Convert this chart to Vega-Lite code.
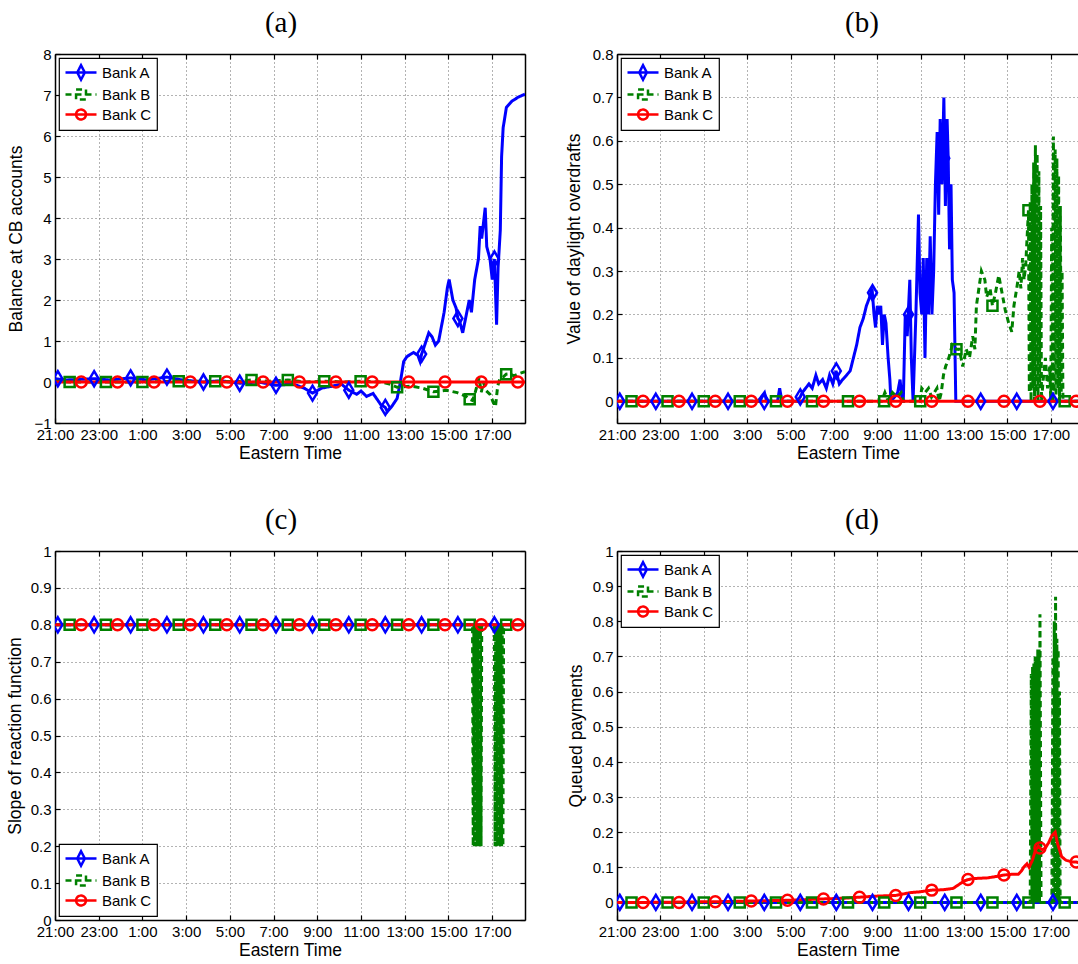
{
"$schema": "https://vega.github.io/schema/vega-lite/v6.json",
"background": "white",
"padding": {"left": 6, "top": 9, "right": 0, "bottom": 0},
"bounds": "flush",
"columns": 2,
"spacing": {"row": 128, "column": 92},
"config": {
  "font": "Liberation Sans",
  "view": {"stroke": null},
  "axis": {"labelFontSize": 15, "titleFontSize": 17.5, "titleFontWeight": "normal", "labelColor": "#000", "titleColor": "#000", "tickColor": "#000", "domainColor": "#000", "domainWidth": 1.5, "tickWidth": 1.2, "tickSize": -5, "gridColor": "#666", "gridDash": [1, 3], "gridWidth": 1, "gridOpacity": 1, "labelPadding": 9, "labelFlush": false, "labelOverlap": false},
  "legend": {"offset": 4, "padding": 5, "rowPadding": -5, "labelOffset": 19, "labelFontSize": 15, "labelColor": "#000", "symbolSize": 256, "strokeColor": "#000", "fillColor": "#fff"},
  "title": {"font": "Liberation Serif", "fontSize": 29, "fontWeight": "normal", "color": "#000", "baseline": "alphabetic", "offset": 9, "anchor": "middle", "frame": "group"}
},
"resolve": {"scale": {"color": "independent", "strokeDash": "independent"}},
"datasets": {
"a_line": [
{"t":0,"v":0.08,"bank":"Bank A"},{"t":0.5,"v":0.05,"bank":"Bank A"},{"t":1,"v":0.06,"bank":"Bank A"},{"t":1.79,"v":0.08,"bank":"Bank A"},{"t":2.5,"v":0.05,"bank":"Bank A"},{"t":3.46,"v":0.1,"bank":"Bank A"},{"t":4.2,"v":0.05,"bank":"Bank A"},{"t":5.12,"v":0.12,"bank":"Bank A"},{"t":5.8,"v":0.05,"bank":"Bank A"},{"t":6.79,"v":0,"bank":"Bank A"},{"t":7.6,"v":0.03,"bank":"Bank A"},{"t":8.45,"v":-0.03,"bank":"Bank A"},{"t":9.3,"v":0,"bank":"Bank A"},{"t":10.11,"v":-0.08,"bank":"Bank A"},{"t":10.9,"v":-0.05,"bank":"Bank A"},{"t":11.4,"v":-0.15,"bank":"Bank A"},{"t":11.78,"v":-0.27,"bank":"Bank A"},{"t":12.2,"v":-0.15,"bank":"Bank A"},{"t":12.7,"v":-0.1,"bank":"Bank A"},{"t":13.1,"v":-0.05,"bank":"Bank A"},{"t":13.44,"v":-0.2,"bank":"Bank A"},{"t":13.8,"v":-0.3,"bank":"Bank A"},{"t":14,"v":-0.22,"bank":"Bank A"},{"t":14.25,"v":-0.35,"bank":"Bank A"},{"t":14.55,"v":-0.28,"bank":"Bank A"},{"t":14.9,"v":-0.55,"bank":"Bank A"},{"t":15.11,"v":-0.62,"bank":"Bank A"},{"t":15.2,"v":-0.72,"bank":"Bank A"},{"t":15.4,"v":-0.6,"bank":"Bank A"},{"t":15.65,"v":-0.4,"bank":"Bank A"},{"t":15.8,"v":0,"bank":"Bank A"},{"t":15.95,"v":0.5,"bank":"Bank A"},{"t":16.1,"v":0.62,"bank":"Bank A"},{"t":16.4,"v":0.72,"bank":"Bank A"},{"t":16.6,"v":0.65,"bank":"Bank A"},{"t":16.7,"v":0.5,"bank":"Bank A"},{"t":16.77,"v":0.68,"bank":"Bank A"},{"t":16.85,"v":0.8,"bank":"Bank A"},{"t":17.1,"v":1.2,"bank":"Bank A"},{"t":17.25,"v":1.1,"bank":"Bank A"},{"t":17.4,"v":0.9,"bank":"Bank A"},{"t":17.55,"v":1,"bank":"Bank A"},{"t":17.8,"v":1.7,"bank":"Bank A"},{"t":17.95,"v":2.3,"bank":"Bank A"},{"t":18.03,"v":2.5,"bank":"Bank A"},{"t":18.2,"v":2,"bank":"Bank A"},{"t":18.35,"v":1.8,"bank":"Bank A"},{"t":18.43,"v":1.55,"bank":"Bank A"},{"t":18.5,"v":1.5,"bank":"Bank A"},{"t":18.65,"v":1.2,"bank":"Bank A"},{"t":18.8,"v":1.6,"bank":"Bank A"},{"t":18.95,"v":2,"bank":"Bank A"},{"t":19.05,"v":1.7,"bank":"Bank A"},{"t":19.2,"v":2.5,"bank":"Bank A"},{"t":19.37,"v":3,"bank":"Bank A"},{"t":19.45,"v":3.8,"bank":"Bank A"},{"t":19.52,"v":3.5,"bank":"Bank A"},{"t":19.68,"v":4.25,"bank":"Bank A"},{"t":19.75,"v":3.3,"bank":"Bank A"},{"t":19.9,"v":3,"bank":"Bank A"},{"t":20,"v":2.5,"bank":"Bank A"},{"t":20.1,"v":3,"bank":"Bank A"},{"t":20.2,"v":1.4,"bank":"Bank A"},{"t":20.27,"v":2.8,"bank":"Bank A"},{"t":20.37,"v":3.7,"bank":"Bank A"},{"t":20.43,"v":5.5,"bank":"Bank A"},{"t":20.5,"v":6.2,"bank":"Bank A"},{"t":20.65,"v":6.7,"bank":"Bank A"},{"t":20.9,"v":6.85,"bank":"Bank A"},{"t":21.2,"v":6.95,"bank":"Bank A"},{"t":21.5,"v":7.02,"bank":"Bank A"},
{"t":0,"v":0.02,"bank":"Bank B"},{"t":0.67,"v":0,"bank":"Bank B"},{"t":2.33,"v":0,"bank":"Bank B"},{"t":4,"v":0,"bank":"Bank B"},{"t":5.66,"v":0.02,"bank":"Bank B"},{"t":7.33,"v":0.02,"bank":"Bank B"},{"t":8.2,"v":0,"bank":"Bank B"},{"t":8.99,"v":0.05,"bank":"Bank B"},{"t":9.8,"v":0.02,"bank":"Bank B"},{"t":10.65,"v":0.05,"bank":"Bank B"},{"t":11.5,"v":0,"bank":"Bank B"},{"t":12.32,"v":0.02,"bank":"Bank B"},{"t":13.2,"v":0,"bank":"Bank B"},{"t":13.98,"v":0.02,"bank":"Bank B"},{"t":14.9,"v":0,"bank":"Bank B"},{"t":15.3,"v":-0.05,"bank":"Bank B"},{"t":15.65,"v":-0.13,"bank":"Bank B"},{"t":16.3,"v":-0.1,"bank":"Bank B"},{"t":16.8,"v":-0.15,"bank":"Bank B"},{"t":17.31,"v":-0.24,"bank":"Bank B"},{"t":17.9,"v":-0.2,"bank":"Bank B"},{"t":18.4,"v":-0.26,"bank":"Bank B"},{"t":18.8,"v":-0.35,"bank":"Bank B"},{"t":18.97,"v":-0.42,"bank":"Bank B"},{"t":19.1,"v":-0.45,"bank":"Bank B"},{"t":19.2,"v":-0.3,"bank":"Bank B"},{"t":19.3,"v":-0.1,"bank":"Bank B"},{"t":19.4,"v":0.1,"bank":"Bank B"},{"t":19.5,"v":-0.25,"bank":"Bank B"},{"t":19.6,"v":0,"bank":"Bank B"},{"t":19.7,"v":-0.2,"bank":"Bank B"},{"t":19.9,"v":-0.3,"bank":"Bank B"},{"t":20.05,"v":-0.5,"bank":"Bank B"},{"t":20.15,"v":-0.6,"bank":"Bank B"},{"t":20.25,"v":-0.1,"bank":"Bank B"},{"t":20.35,"v":0.08,"bank":"Bank B"},{"t":20.5,"v":0.12,"bank":"Bank B"},{"t":20.64,"v":0.19,"bank":"Bank B"},{"t":20.8,"v":0.2,"bank":"Bank B"},{"t":21,"v":0.15,"bank":"Bank B"},{"t":21.2,"v":0.2,"bank":"Bank B"},{"t":21.5,"v":0.25,"bank":"Bank B"},
{"t":0,"v":0,"bank":"Bank C"},{"t":21.5,"v":0,"bank":"Bank C"}
],
"a_mark": [
{"t":0.13,"v":0.08,"bank":"Bank A"},{"t":1.79,"v":0.08,"bank":"Bank A"},{"t":3.46,"v":0.1,"bank":"Bank A"},{"t":5.12,"v":0.12,"bank":"Bank A"},{"t":6.79,"v":0,"bank":"Bank A"},{"t":8.45,"v":-0.03,"bank":"Bank A"},{"t":10.11,"v":-0.08,"bank":"Bank A"},{"t":11.78,"v":-0.27,"bank":"Bank A"},{"t":13.44,"v":-0.2,"bank":"Bank A"},{"t":15.11,"v":-0.62,"bank":"Bank A"},{"t":16.77,"v":0.68,"bank":"Bank A"},{"t":18.43,"v":1.55,"bank":"Bank A"},{"t":20.1,"v":3,"bank":"Bank A"},
{"t":0.67,"v":0,"bank":"Bank B"},{"t":2.33,"v":0,"bank":"Bank B"},{"t":4,"v":0,"bank":"Bank B"},{"t":5.66,"v":0.02,"bank":"Bank B"},{"t":7.33,"v":0.02,"bank":"Bank B"},{"t":8.99,"v":0.05,"bank":"Bank B"},{"t":10.65,"v":0.05,"bank":"Bank B"},{"t":12.32,"v":0.02,"bank":"Bank B"},{"t":13.98,"v":0.02,"bank":"Bank B"},{"t":15.65,"v":-0.13,"bank":"Bank B"},{"t":17.31,"v":-0.24,"bank":"Bank B"},{"t":18.97,"v":-0.42,"bank":"Bank B"},{"t":20.64,"v":0.19,"bank":"Bank B"},
{"t":1.2,"v":0,"bank":"Bank C"},{"t":2.86,"v":0,"bank":"Bank C"},{"t":4.53,"v":0,"bank":"Bank C"},{"t":6.19,"v":0,"bank":"Bank C"},{"t":7.86,"v":0,"bank":"Bank C"},{"t":9.52,"v":0,"bank":"Bank C"},{"t":11.18,"v":0,"bank":"Bank C"},{"t":12.85,"v":0,"bank":"Bank C"},{"t":14.51,"v":0,"bank":"Bank C"},{"t":16.18,"v":0,"bank":"Bank C"},{"t":17.84,"v":0,"bank":"Bank C"},{"t":19.5,"v":0,"bank":"Bank C"},{"t":21.17,"v":0,"bank":"Bank C"}
],
"b_line": [
{"t":0,"v":0,"bank":"Bank A"},{"t":6.5,"v":0,"bank":"Bank A"},{"t":6.8,"v":0.02,"bank":"Bank A"},{"t":6.9,"v":0,"bank":"Bank A"},{"t":7.4,"v":0,"bank":"Bank A"},{"t":7.5,"v":0.03,"bank":"Bank A"},{"t":7.6,"v":0,"bank":"Bank A"},{"t":8.3,"v":0,"bank":"Bank A"},{"t":8.45,"v":0.01,"bank":"Bank A"},{"t":8.54,"v":0.02,"bank":"Bank A"},{"t":8.85,"v":0.04,"bank":"Bank A"},{"t":9,"v":0.03,"bank":"Bank A"},{"t":9.17,"v":0.06,"bank":"Bank A"},{"t":9.3,"v":0.04,"bank":"Bank A"},{"t":9.48,"v":0.05,"bank":"Bank A"},{"t":9.65,"v":0.03,"bank":"Bank A"},{"t":9.8,"v":0.06,"bank":"Bank A"},{"t":9.95,"v":0.04,"bank":"Bank A"},{"t":10.1,"v":0.07,"bank":"Bank A"},{"t":10.25,"v":0.04,"bank":"Bank A"},{"t":10.4,"v":0.05,"bank":"Bank A"},{"t":10.58,"v":0.06,"bank":"Bank A"},{"t":10.75,"v":0.07,"bank":"Bank A"},{"t":10.9,"v":0.1,"bank":"Bank A"},{"t":11.05,"v":0.13,"bank":"Bank A"},{"t":11.2,"v":0.17,"bank":"Bank A"},{"t":11.35,"v":0.19,"bank":"Bank A"},{"t":11.5,"v":0.22,"bank":"Bank A"},{"t":11.65,"v":0.24,"bank":"Bank A"},{"t":11.76,"v":0.26,"bank":"Bank A"},{"t":11.85,"v":0.2,"bank":"Bank A"},{"t":11.92,"v":0.17,"bank":"Bank A"},{"t":12,"v":0.22,"bank":"Bank A"},{"t":12.08,"v":0.2,"bank":"Bank A"},{"t":12.16,"v":0.22,"bank":"Bank A"},{"t":12.24,"v":0.13,"bank":"Bank A"},{"t":12.32,"v":0.2,"bank":"Bank A"},{"t":12.4,"v":0.18,"bank":"Bank A"},{"t":12.5,"v":0.1,"bank":"Bank A"},{"t":12.58,"v":0.05,"bank":"Bank A"},{"t":12.63,"v":0,"bank":"Bank A"},{"t":12.8,"v":0.01,"bank":"Bank A"},{"t":12.94,"v":0.02,"bank":"Bank A"},{"t":13.05,"v":0.05,"bank":"Bank A"},{"t":13.15,"v":0,"bank":"Bank A"},{"t":13.2,"v":0,"bank":"Bank A"},{"t":13.29,"v":0.2,"bank":"Bank A"},{"t":13.38,"v":0.15,"bank":"Bank A"},{"t":13.5,"v":0.28,"bank":"Bank A"},{"t":13.57,"v":0.1,"bank":"Bank A"},{"t":13.65,"v":0,"bank":"Bank A"},{"t":13.78,"v":0.2,"bank":"Bank A"},{"t":13.9,"v":0.43,"bank":"Bank A"},{"t":13.97,"v":0.25,"bank":"Bank A"},{"t":14.05,"v":0.2,"bank":"Bank A"},{"t":14.12,"v":0.33,"bank":"Bank A"},{"t":14.2,"v":0.1,"bank":"Bank A"},{"t":14.28,"v":0.33,"bank":"Bank A"},{"t":14.36,"v":0.2,"bank":"Bank A"},{"t":14.44,"v":0.38,"bank":"Bank A"},{"t":14.52,"v":0.2,"bank":"Bank A"},{"t":14.6,"v":0.3,"bank":"Bank A"},{"t":14.68,"v":0.5,"bank":"Bank A"},{"t":14.76,"v":0.62,"bank":"Bank A"},{"t":14.83,"v":0.43,"bank":"Bank A"},{"t":14.9,"v":0.65,"bank":"Bank A"},{"t":14.98,"v":0.5,"bank":"Bank A"},{"t":15.07,"v":0.7,"bank":"Bank A"},{"t":15.14,"v":0.45,"bank":"Bank A"},{"t":15.22,"v":0.65,"bank":"Bank A"},{"t":15.27,"v":0.56,"bank":"Bank A"},{"t":15.33,"v":0.35,"bank":"Bank A"},{"t":15.4,"v":0.5,"bank":"Bank A"},{"t":15.46,"v":0.28,"bank":"Bank A"},{"t":15.54,"v":0.25,"bank":"Bank A"},{"t":15.62,"v":0,"bank":"Bank A"},{"t":21.5,"v":0,"bank":"Bank A"},
{"t":0,"v":0,"bank":"Bank B"},{"t":12.2,"v":0,"bank":"Bank B"},{"t":12.35,"v":0.02,"bank":"Bank B"},{"t":12.5,"v":0,"bank":"Bank B"},{"t":12.7,"v":0.02,"bank":"Bank B"},{"t":12.9,"v":0.01,"bank":"Bank B"},{"t":13.1,"v":0.02,"bank":"Bank B"},{"t":13.2,"v":0,"bank":"Bank B"},{"t":13.97,"v":0,"bank":"Bank B"},{"t":14.05,"v":0.03,"bank":"Bank B"},{"t":14.2,"v":0.02,"bank":"Bank B"},{"t":14.36,"v":0.03,"bank":"Bank B"},{"t":14.5,"v":0.01,"bank":"Bank B"},{"t":14.75,"v":0.03,"bank":"Bank B"},{"t":14.85,"v":0,"bank":"Bank B"},{"t":14.95,"v":0.02,"bank":"Bank B"},{"t":15.05,"v":0.06,"bank":"Bank B"},{"t":15.15,"v":0.08,"bank":"Bank B"},{"t":15.3,"v":0.1,"bank":"Bank B"},{"t":15.46,"v":0.13,"bank":"Bank B"},{"t":15.65,"v":0.12,"bank":"Bank B"},{"t":15.78,"v":0.12,"bank":"Bank B"},{"t":15.94,"v":0.08,"bank":"Bank B"},{"t":16.1,"v":0.12,"bank":"Bank B"},{"t":16.25,"v":0.1,"bank":"Bank B"},{"t":16.4,"v":0.15,"bank":"Bank B"},{"t":16.5,"v":0.12,"bank":"Bank B"},{"t":16.57,"v":0.22,"bank":"Bank B"},{"t":16.8,"v":0.3,"bank":"Bank B"},{"t":16.96,"v":0.28,"bank":"Bank B"},{"t":17.04,"v":0.24,"bank":"Bank B"},{"t":17.2,"v":0.26,"bank":"Bank B"},{"t":17.31,"v":0.22,"bank":"Bank B"},{"t":17.45,"v":0.25,"bank":"Bank B"},{"t":17.6,"v":0.29,"bank":"Bank B"},{"t":17.75,"v":0.25,"bank":"Bank B"},{"t":17.9,"v":0.21,"bank":"Bank B"},{"t":18.06,"v":0.18,"bank":"Bank B"},{"t":18.2,"v":0.16,"bank":"Bank B"},{"t":18.3,"v":0.22,"bank":"Bank B"},{"t":18.46,"v":0.27,"bank":"Bank B"},{"t":18.54,"v":0.3,"bank":"Bank B"},{"t":18.62,"v":0.26,"bank":"Bank B"},{"t":18.7,"v":0.33,"bank":"Bank B"},{"t":18.77,"v":0.28,"bank":"Bank B"},{"t":18.85,"v":0.32,"bank":"Bank B"},{"t":18.97,"v":0.44,"bank":"Bank B"},{"t":19.01,"v":0.02,"bank":"Bank B"},{"t":19.05,"v":0.46,"bank":"Bank B"},{"t":19.09,"v":0,"bank":"Bank B"},{"t":19.13,"v":0.5,"bank":"Bank B"},{"t":19.17,"v":0.03,"bank":"Bank B"},{"t":19.21,"v":0.55,"bank":"Bank B"},{"t":19.25,"v":0,"bank":"Bank B"},{"t":19.29,"v":0.59,"bank":"Bank B"},{"t":19.33,"v":0.02,"bank":"Bank B"},{"t":19.37,"v":0.57,"bank":"Bank B"},{"t":19.41,"v":0,"bank":"Bank B"},{"t":19.45,"v":0.53,"bank":"Bank B"},{"t":19.49,"v":0.03,"bank":"Bank B"},{"t":19.53,"v":0.45,"bank":"Bank B"},{"t":19.57,"v":0,"bank":"Bank B"},{"t":19.65,"v":0.05,"bank":"Bank B"},{"t":19.75,"v":0.1,"bank":"Bank B"},{"t":19.85,"v":0.03,"bank":"Bank B"},{"t":19.95,"v":0.08,"bank":"Bank B"},{"t":20,"v":0,"bank":"Bank B"},{"t":20.04,"v":0.4,"bank":"Bank B"},{"t":20.08,"v":0,"bank":"Bank B"},{"t":20.12,"v":0.61,"bank":"Bank B"},{"t":20.16,"v":0.02,"bank":"Bank B"},{"t":20.2,"v":0.58,"bank":"Bank B"},{"t":20.24,"v":0,"bank":"Bank B"},{"t":20.28,"v":0.56,"bank":"Bank B"},{"t":20.32,"v":0.03,"bank":"Bank B"},{"t":20.36,"v":0.52,"bank":"Bank B"},{"t":20.4,"v":0,"bank":"Bank B"},{"t":20.44,"v":0.45,"bank":"Bank B"},{"t":20.48,"v":0.02,"bank":"Bank B"},{"t":20.52,"v":0.3,"bank":"Bank B"},{"t":20.56,"v":0,"bank":"Bank B"},{"t":21.5,"v":0,"bank":"Bank B"},
{"t":0,"v":0,"bank":"Bank C"},{"t":21.5,"v":0,"bank":"Bank C"}
],
"b_mark": [
{"t":0.13,"v":0,"bank":"Bank A"},{"t":1.79,"v":0,"bank":"Bank A"},{"t":3.46,"v":0,"bank":"Bank A"},{"t":5.12,"v":0,"bank":"Bank A"},{"t":6.79,"v":0,"bank":"Bank A"},{"t":8.45,"v":0.01,"bank":"Bank A"},{"t":10.11,"v":0.07,"bank":"Bank A"},{"t":11.78,"v":0.25,"bank":"Bank A"},{"t":13.44,"v":0.2,"bank":"Bank A"},{"t":15.11,"v":0.56,"bank":"Bank A"},{"t":16.77,"v":0,"bank":"Bank A"},{"t":18.43,"v":0,"bank":"Bank A"},{"t":20.1,"v":0,"bank":"Bank A"},
{"t":0.67,"v":0,"bank":"Bank B"},{"t":2.33,"v":0,"bank":"Bank B"},{"t":4,"v":0,"bank":"Bank B"},{"t":5.66,"v":0,"bank":"Bank B"},{"t":7.33,"v":0,"bank":"Bank B"},{"t":8.99,"v":0,"bank":"Bank B"},{"t":10.65,"v":0,"bank":"Bank B"},{"t":12.32,"v":0,"bank":"Bank B"},{"t":13.98,"v":0,"bank":"Bank B"},{"t":15.65,"v":0.12,"bank":"Bank B"},{"t":17.31,"v":0.22,"bank":"Bank B"},{"t":18.97,"v":0.44,"bank":"Bank B"},{"t":20.64,"v":0,"bank":"Bank B"},
{"t":1.2,"v":0,"bank":"Bank C"},{"t":2.86,"v":0,"bank":"Bank C"},{"t":4.53,"v":0,"bank":"Bank C"},{"t":6.19,"v":0,"bank":"Bank C"},{"t":7.86,"v":0,"bank":"Bank C"},{"t":9.52,"v":0,"bank":"Bank C"},{"t":11.18,"v":0,"bank":"Bank C"},{"t":12.85,"v":0,"bank":"Bank C"},{"t":14.51,"v":0,"bank":"Bank C"},{"t":16.18,"v":0,"bank":"Bank C"},{"t":17.84,"v":0,"bank":"Bank C"},{"t":19.5,"v":0,"bank":"Bank C"},{"t":21.17,"v":0,"bank":"Bank C"}
],
"c_line": [
{"t":0,"v":0.8,"bank":"Bank A"},{"t":21.5,"v":0.8,"bank":"Bank A"},
{"t":0,"v":0.8,"bank":"Bank B"},{"t":19.1,"v":0.8,"bank":"Bank B"},{"t":19.13,"v":0.2,"bank":"Bank B"},{"t":19.16,"v":0.8,"bank":"Bank B"},{"t":19.19,"v":0.2,"bank":"Bank B"},{"t":19.22,"v":0.8,"bank":"Bank B"},{"t":19.25,"v":0.2,"bank":"Bank B"},{"t":19.28,"v":0.8,"bank":"Bank B"},{"t":19.31,"v":0.2,"bank":"Bank B"},{"t":19.34,"v":0.8,"bank":"Bank B"},{"t":19.37,"v":0.2,"bank":"Bank B"},{"t":19.4,"v":0.8,"bank":"Bank B"},{"t":19.43,"v":0.2,"bank":"Bank B"},{"t":19.46,"v":0.8,"bank":"Bank B"},{"t":19.49,"v":0.2,"bank":"Bank B"},{"t":19.52,"v":0.8,"bank":"Bank B"},{"t":20.1,"v":0.8,"bank":"Bank B"},{"t":20.13,"v":0.2,"bank":"Bank B"},{"t":20.16,"v":0.8,"bank":"Bank B"},{"t":20.19,"v":0.2,"bank":"Bank B"},{"t":20.22,"v":0.8,"bank":"Bank B"},{"t":20.25,"v":0.2,"bank":"Bank B"},{"t":20.28,"v":0.8,"bank":"Bank B"},{"t":20.31,"v":0.2,"bank":"Bank B"},{"t":20.34,"v":0.8,"bank":"Bank B"},{"t":20.37,"v":0.2,"bank":"Bank B"},{"t":20.4,"v":0.8,"bank":"Bank B"},{"t":20.43,"v":0.2,"bank":"Bank B"},{"t":20.46,"v":0.8,"bank":"Bank B"},{"t":20.49,"v":0.2,"bank":"Bank B"},{"t":20.52,"v":0.8,"bank":"Bank B"},{"t":21.5,"v":0.8,"bank":"Bank B"},
{"t":0,"v":0.8,"bank":"Bank C"},{"t":21.5,"v":0.8,"bank":"Bank C"}
],
"c_mark": [
{"t":0.13,"v":0.8,"bank":"Bank A"},{"t":1.79,"v":0.8,"bank":"Bank A"},{"t":3.46,"v":0.8,"bank":"Bank A"},{"t":5.12,"v":0.8,"bank":"Bank A"},{"t":6.79,"v":0.8,"bank":"Bank A"},{"t":8.45,"v":0.8,"bank":"Bank A"},{"t":10.11,"v":0.8,"bank":"Bank A"},{"t":11.78,"v":0.8,"bank":"Bank A"},{"t":13.44,"v":0.8,"bank":"Bank A"},{"t":15.11,"v":0.8,"bank":"Bank A"},{"t":16.77,"v":0.8,"bank":"Bank A"},{"t":18.43,"v":0.8,"bank":"Bank A"},{"t":20.1,"v":0.8,"bank":"Bank A"},
{"t":0.67,"v":0.8,"bank":"Bank B"},{"t":2.33,"v":0.8,"bank":"Bank B"},{"t":4,"v":0.8,"bank":"Bank B"},{"t":5.66,"v":0.8,"bank":"Bank B"},{"t":7.33,"v":0.8,"bank":"Bank B"},{"t":8.99,"v":0.8,"bank":"Bank B"},{"t":10.65,"v":0.8,"bank":"Bank B"},{"t":12.32,"v":0.8,"bank":"Bank B"},{"t":13.98,"v":0.8,"bank":"Bank B"},{"t":15.65,"v":0.8,"bank":"Bank B"},{"t":17.31,"v":0.8,"bank":"Bank B"},{"t":18.97,"v":0.8,"bank":"Bank B"},{"t":20.64,"v":0.8,"bank":"Bank B"},
{"t":1.2,"v":0.8,"bank":"Bank C"},{"t":2.86,"v":0.8,"bank":"Bank C"},{"t":4.53,"v":0.8,"bank":"Bank C"},{"t":6.19,"v":0.8,"bank":"Bank C"},{"t":7.86,"v":0.8,"bank":"Bank C"},{"t":9.52,"v":0.8,"bank":"Bank C"},{"t":11.18,"v":0.8,"bank":"Bank C"},{"t":12.85,"v":0.8,"bank":"Bank C"},{"t":14.51,"v":0.8,"bank":"Bank C"},{"t":16.18,"v":0.8,"bank":"Bank C"},{"t":17.84,"v":0.8,"bank":"Bank C"},{"t":19.5,"v":0.8,"bank":"Bank C"},{"t":21.17,"v":0.8,"bank":"Bank C"}
],
"d_line": [
{"t":0,"v":0,"bank":"Bank A"},{"t":21.5,"v":0,"bank":"Bank A"},
{"t":0,"v":0,"bank":"Bank B"},{"t":19.05,"v":0,"bank":"Bank B"},{"t":19.1,"v":0.65,"bank":"Bank B"},{"t":19.13,"v":0,"bank":"Bank B"},{"t":19.16,"v":0.67,"bank":"Bank B"},{"t":19.19,"v":0,"bank":"Bank B"},{"t":19.22,"v":0.68,"bank":"Bank B"},{"t":19.25,"v":0,"bank":"Bank B"},{"t":19.28,"v":0.7,"bank":"Bank B"},{"t":19.31,"v":0,"bank":"Bank B"},{"t":19.34,"v":0.7,"bank":"Bank B"},{"t":19.37,"v":0,"bank":"Bank B"},{"t":19.4,"v":0.72,"bank":"Bank B"},{"t":19.43,"v":0,"bank":"Bank B"},{"t":19.46,"v":0.72,"bank":"Bank B"},{"t":19.48,"v":0,"bank":"Bank B"},{"t":19.5,"v":0.82,"bank":"Bank B"},{"t":19.55,"v":0,"bank":"Bank B"},{"t":20.05,"v":0,"bank":"Bank B"},{"t":20.1,"v":0.7,"bank":"Bank B"},{"t":20.13,"v":0,"bank":"Bank B"},{"t":20.16,"v":0.8,"bank":"Bank B"},{"t":20.19,"v":0,"bank":"Bank B"},{"t":20.22,"v":0.87,"bank":"Bank B"},{"t":20.25,"v":0,"bank":"Bank B"},{"t":20.28,"v":0.75,"bank":"Bank B"},{"t":20.31,"v":0,"bank":"Bank B"},{"t":20.34,"v":0.72,"bank":"Bank B"},{"t":20.37,"v":0,"bank":"Bank B"},{"t":20.4,"v":0.6,"bank":"Bank B"},{"t":20.43,"v":0,"bank":"Bank B"},{"t":21.5,"v":0,"bank":"Bank B"},
{"t":0,"v":0,"bank":"Bank C"},{"t":1.2,"v":0,"bank":"Bank C"},{"t":4.53,"v":0.002,"bank":"Bank C"},{"t":6.19,"v":0.004,"bank":"Bank C"},{"t":7.86,"v":0.006,"bank":"Bank C"},{"t":9.52,"v":0.01,"bank":"Bank C"},{"t":10.5,"v":0.012,"bank":"Bank C"},{"t":11.18,"v":0.015,"bank":"Bank C"},{"t":12,"v":0.018,"bank":"Bank C"},{"t":12.85,"v":0.02,"bank":"Bank C"},{"t":13.54,"v":0.028,"bank":"Bank C"},{"t":13.93,"v":0.03,"bank":"Bank C"},{"t":14.51,"v":0.035,"bank":"Bank C"},{"t":15.04,"v":0.036,"bank":"Bank C"},{"t":15.5,"v":0.04,"bank":"Bank C"},{"t":15.98,"v":0.06,"bank":"Bank C"},{"t":16.18,"v":0.065,"bank":"Bank C"},{"t":16.45,"v":0.068,"bank":"Bank C"},{"t":17.1,"v":0.07,"bank":"Bank C"},{"t":17.5,"v":0.074,"bank":"Bank C"},{"t":17.84,"v":0.078,"bank":"Bank C"},{"t":18.2,"v":0.08,"bank":"Bank C"},{"t":18.5,"v":0.08,"bank":"Bank C"},{"t":18.65,"v":0.09,"bank":"Bank C"},{"t":18.75,"v":0.1,"bank":"Bank C"},{"t":18.9,"v":0.11,"bank":"Bank C"},{"t":19,"v":0.1,"bank":"Bank C"},{"t":19.15,"v":0.12,"bank":"Bank C"},{"t":19.3,"v":0.15,"bank":"Bank C"},{"t":19.43,"v":0.16,"bank":"Bank C"},{"t":19.5,"v":0.155,"bank":"Bank C"},{"t":19.6,"v":0.15,"bank":"Bank C"},{"t":19.75,"v":0.155,"bank":"Bank C"},{"t":19.9,"v":0.17,"bank":"Bank C"},{"t":20.05,"v":0.19,"bank":"Bank C"},{"t":20.2,"v":0.2,"bank":"Bank C"},{"t":20.3,"v":0.17,"bank":"Bank C"},{"t":20.5,"v":0.13,"bank":"Bank C"},{"t":20.7,"v":0.12,"bank":"Bank C"},{"t":21,"v":0.115,"bank":"Bank C"},{"t":21.17,"v":0.115,"bank":"Bank C"},{"t":21.5,"v":0.11,"bank":"Bank C"}
],
"d_mark": [
{"t":0.13,"v":0,"bank":"Bank A"},{"t":1.79,"v":0,"bank":"Bank A"},{"t":3.46,"v":0,"bank":"Bank A"},{"t":5.12,"v":0,"bank":"Bank A"},{"t":6.79,"v":0,"bank":"Bank A"},{"t":8.45,"v":0,"bank":"Bank A"},{"t":10.11,"v":0,"bank":"Bank A"},{"t":11.78,"v":0,"bank":"Bank A"},{"t":13.44,"v":0,"bank":"Bank A"},{"t":15.11,"v":0,"bank":"Bank A"},{"t":16.77,"v":0,"bank":"Bank A"},{"t":18.43,"v":0,"bank":"Bank A"},{"t":20.1,"v":0,"bank":"Bank A"},
{"t":0.67,"v":0,"bank":"Bank B"},{"t":2.33,"v":0,"bank":"Bank B"},{"t":4,"v":0,"bank":"Bank B"},{"t":5.66,"v":0,"bank":"Bank B"},{"t":7.33,"v":0,"bank":"Bank B"},{"t":8.99,"v":0,"bank":"Bank B"},{"t":10.65,"v":0,"bank":"Bank B"},{"t":12.32,"v":0,"bank":"Bank B"},{"t":13.98,"v":0,"bank":"Bank B"},{"t":15.65,"v":0,"bank":"Bank B"},{"t":17.31,"v":0,"bank":"Bank B"},{"t":18.97,"v":0,"bank":"Bank B"},{"t":20.64,"v":0,"bank":"Bank B"},
{"t":1.2,"v":0,"bank":"Bank C"},{"t":2.86,"v":0,"bank":"Bank C"},{"t":4.53,"v":0.002,"bank":"Bank C"},{"t":6.19,"v":0.004,"bank":"Bank C"},{"t":7.86,"v":0.006,"bank":"Bank C"},{"t":9.52,"v":0.01,"bank":"Bank C"},{"t":11.18,"v":0.015,"bank":"Bank C"},{"t":12.85,"v":0.02,"bank":"Bank C"},{"t":14.51,"v":0.035,"bank":"Bank C"},{"t":16.18,"v":0.065,"bank":"Bank C"},{"t":17.84,"v":0.078,"bank":"Bank C"},{"t":19.5,"v":0.155,"bank":"Bank C"},{"t":21.17,"v":0.115,"bank":"Bank C"}
]
},
"concat": [
{
 "width": 470, "height": 369,
 "title": {"text": "(a)", "dx": -9},
 "layer": [
  {"data": {"name": "a_line"}, "mark": {"type": "line", "strokeWidth": 3, "clip": true},
   "encoding": {
    "x": {"field": "t", "type": "quantitative", "scale": {"domain": [0, 21.5], "nice": false, "zero": false}, "axis": {"values": [0,2,4,6,8,10,12,14,16,18,20], "labelExpr": "((datum.value + 21) % 24) + ':00'", "title": "Eastern Time", "titlePadding": 2, "grid": true}},
    "y": {"field": "v", "type": "quantitative", "scale": {"domain": [-1, 8], "nice": false, "zero": false}, "axis": {"values": [-1,0,1,2,3,4,5,6,7,8], "format": "~g", "title": "Balance at CB accounts", "titlePadding": 8, "grid": true}},
    "color": {"field": "bank", "type": "nominal", "scale": {"domain": ["Bank A","Bank B","Bank C"], "range": ["#0000ff","#008000","#ff0000"]},
      "legend": {"title": null, "orient": "top-left", "encode": {"symbols": {"update": {"shape": {"signal": "datum.value === 'Bank A' ? 'M-1,0H2.875M0.94,-0.91L1.41,0L0.94,0.91L0.47,0Z' : datum.value === 'Bank B' ? 'M-1,0H2.875M0.32,-0.62H1.56V0.62H0.32Z' : 'M-1,0H2.875M1.56,0A0.62,0.62,0,1,1,0.32,0A0.62,0.62,0,1,1,1.56,0Z'"}, "stroke": {"signal": "datum.value === 'Bank A' ? '#0000ff' : datum.value === 'Bank B' ? '#008000' : '#ff0000'"}, "strokeDash": {"signal": "datum.value === 'Bank B' ? [6,4] : [1,0]"}, "strokeWidth": {"value": 2.5}, "fill": {"value": "transparent"}, "opacity": {"value": 1}}}, "legend": {"update": {"strokeWidth": {"value": 1.2}}}}}},
    "strokeDash": {"field": "bank", "type": "nominal", "scale": {"domain": ["Bank A","Bank B","Bank C"], "range": [[1,0],[6,4],[1,0]]}, "legend": null}
   }},
  {"data": {"name": "a_mark"}, "transform": [{"filter": "datum.bank === 'Bank A'"}], "mark": {"type": "point", "shape": "M0,-1L0.6,0L0,1L-0.6,0Z", "filled": false, "strokeWidth": 2.5, "size": 225, "opacity": 1, "clip": true},
   "encoding": {
    "x": {"field": "t", "type": "quantitative", "axis": {"orient": "top", "values": [0,2,4,6,8,10,12,14,16,18,20], "labels": false, "grid": false, "title": null, "minExtent": 0, "maxExtent": 0}},
    "y": {"field": "v", "type": "quantitative", "axis": {"orient": "right", "values": [-1,0,1,2,3,4,5,6,7,8], "labels": false, "grid": false, "title": null, "minExtent": 0, "maxExtent": 0}},
    "color": {"field": "bank", "type": "nominal", "legend": null}
   }},
  {"data": {"name": "a_mark"}, "transform": [{"filter": "datum.bank === 'Bank B'"}], "mark": {"type": "point", "shape": "M-0.67,-0.67H0.67V0.67H-0.67Z", "filled": false, "strokeWidth": 2.5, "size": 225, "opacity": 1, "clip": true},
   "encoding": {"x": {"field": "t", "type": "quantitative", "axis": null}, "y": {"field": "v", "type": "quantitative", "axis": null}, "color": {"field": "bank", "type": "nominal", "legend": null}}},
  {"data": {"name": "a_mark"}, "transform": [{"filter": "datum.bank === 'Bank C'"}], "mark": {"type": "point", "shape": "M0.73,0A0.73,0.73,0,1,1,-0.73,0A0.73,0.73,0,1,1,0.73,0Z", "filled": false, "strokeWidth": 2.5, "size": 225, "opacity": 1, "clip": true},
   "encoding": {"x": {"field": "t", "type": "quantitative", "axis": null}, "y": {"field": "v", "type": "quantitative", "axis": null}, "color": {"field": "bank", "type": "nominal", "legend": null}}}
 ],
 "resolve": {"axis": {"x": "independent", "y": "independent"}}
},
{
 "width": 462, "height": 369,
 "title": {"text": "(b)", "dx": 14},
 "layer": [
  {"data": {"name": "b_line"}, "mark": {"type": "line", "strokeWidth": 3, "clip": true},
   "encoding": {
    "x": {"field": "t", "type": "quantitative", "scale": {"domain": [0, 21.3], "nice": false, "zero": false}, "axis": {"values": [0,2,4,6,8,10,12,14,16,18,20], "labelExpr": "((datum.value + 21) % 24) + ':00'", "title": "Eastern Time", "titlePadding": 2, "grid": true}},
    "y": {"field": "v", "type": "quantitative", "scale": {"domain": [-0.05, 0.8], "nice": false, "zero": false}, "axis": {"values": [0,0.1,0.2,0.3,0.4,0.5,0.6,0.7,0.8], "format": "~g", "title": "Value of daylight overdrafts", "titlePadding": 9, "grid": true}},
    "color": {"field": "bank", "type": "nominal", "scale": {"domain": ["Bank A","Bank B","Bank C"], "range": ["#0000ff","#008000","#ff0000"]},
      "legend": {"title": null, "orient": "top-left", "encode": {"symbols": {"update": {"shape": {"signal": "datum.value === 'Bank A' ? 'M-1,0H2.875M0.94,-0.91L1.41,0L0.94,0.91L0.47,0Z' : datum.value === 'Bank B' ? 'M-1,0H2.875M0.32,-0.62H1.56V0.62H0.32Z' : 'M-1,0H2.875M1.56,0A0.62,0.62,0,1,1,0.32,0A0.62,0.62,0,1,1,1.56,0Z'"}, "stroke": {"signal": "datum.value === 'Bank A' ? '#0000ff' : datum.value === 'Bank B' ? '#008000' : '#ff0000'"}, "strokeDash": {"signal": "datum.value === 'Bank B' ? [6,4] : [1,0]"}, "strokeWidth": {"value": 2.5}, "fill": {"value": "transparent"}, "opacity": {"value": 1}}}, "legend": {"update": {"strokeWidth": {"value": 1.2}}}}}},
    "strokeDash": {"field": "bank", "type": "nominal", "scale": {"domain": ["Bank A","Bank B","Bank C"], "range": [[1,0],[6,4],[1,0]]}, "legend": null}
   }},
  {"data": {"name": "b_mark"}, "transform": [{"filter": "datum.bank === 'Bank A'"}], "mark": {"type": "point", "shape": "M0,-1L0.6,0L0,1L-0.6,0Z", "filled": false, "strokeWidth": 2.5, "size": 225, "opacity": 1, "clip": true},
   "encoding": {
    "x": {"field": "t", "type": "quantitative", "axis": {"orient": "top", "values": [0,2,4,6,8,10,12,14,16,18,20], "labels": false, "grid": false, "title": null, "minExtent": 0, "maxExtent": 0}},
    "y": {"field": "v", "type": "quantitative", "axis": null},
    "color": {"field": "bank", "type": "nominal", "legend": null}
   }},
  {"data": {"name": "b_mark"}, "transform": [{"filter": "datum.bank === 'Bank B'"}], "mark": {"type": "point", "shape": "M-0.67,-0.67H0.67V0.67H-0.67Z", "filled": false, "strokeWidth": 2.5, "size": 225, "opacity": 1, "clip": true},
   "encoding": {"x": {"field": "t", "type": "quantitative", "axis": null}, "y": {"field": "v", "type": "quantitative", "axis": null}, "color": {"field": "bank", "type": "nominal", "legend": null}}},
  {"data": {"name": "b_mark"}, "transform": [{"filter": "datum.bank === 'Bank C'"}], "mark": {"type": "point", "shape": "M0.73,0A0.73,0.73,0,1,1,-0.73,0A0.73,0.73,0,1,1,0.73,0Z", "filled": false, "strokeWidth": 2.5, "size": 225, "opacity": 1, "clip": true},
   "encoding": {"x": {"field": "t", "type": "quantitative", "axis": null}, "y": {"field": "v", "type": "quantitative", "axis": null}, "color": {"field": "bank", "type": "nominal", "legend": null}}}
 ],
 "resolve": {"axis": {"x": "independent", "y": "independent"}}
},
{
 "width": 470, "height": 369,
 "title": {"text": "(c)", "dx": -9},
 "layer": [
  {"data": {"name": "c_line"}, "mark": {"type": "line", "strokeWidth": 3, "clip": true},
   "encoding": {
    "x": {"field": "t", "type": "quantitative", "scale": {"domain": [0, 21.5], "nice": false, "zero": false}, "axis": {"values": [0,2,4,6,8,10,12,14,16,18,20], "labelExpr": "((datum.value + 21) % 24) + ':00'", "title": "Eastern Time", "titlePadding": 2, "grid": true}},
    "y": {"field": "v", "type": "quantitative", "scale": {"domain": [0, 1], "nice": false, "zero": false}, "axis": {"values": [0,0.1,0.2,0.3,0.4,0.5,0.6,0.7,0.8,0.9,1], "format": "~g", "title": "Slope of reaction function", "titlePadding": 6, "grid": true}},
    "color": {"field": "bank", "type": "nominal", "scale": {"domain": ["Bank A","Bank B","Bank C"], "range": ["#0000ff","#008000","#ff0000"]},
      "legend": {"title": null, "orient": "bottom-left", "encode": {"symbols": {"update": {"shape": {"signal": "datum.value === 'Bank A' ? 'M-1,0H2.875M0.94,-0.91L1.41,0L0.94,0.91L0.47,0Z' : datum.value === 'Bank B' ? 'M-1,0H2.875M0.32,-0.62H1.56V0.62H0.32Z' : 'M-1,0H2.875M1.56,0A0.62,0.62,0,1,1,0.32,0A0.62,0.62,0,1,1,1.56,0Z'"}, "stroke": {"signal": "datum.value === 'Bank A' ? '#0000ff' : datum.value === 'Bank B' ? '#008000' : '#ff0000'"}, "strokeDash": {"signal": "datum.value === 'Bank B' ? [6,4] : [1,0]"}, "strokeWidth": {"value": 2.5}, "fill": {"value": "transparent"}, "opacity": {"value": 1}}}, "legend": {"update": {"strokeWidth": {"value": 1.2}}}}}},
    "strokeDash": {"field": "bank", "type": "nominal", "scale": {"domain": ["Bank A","Bank B","Bank C"], "range": [[1,0],[6,4],[1,0]]}, "legend": null}
   }},
  {"data": {"name": "c_mark"}, "transform": [{"filter": "datum.bank === 'Bank A'"}], "mark": {"type": "point", "shape": "M0,-1L0.6,0L0,1L-0.6,0Z", "filled": false, "strokeWidth": 2.5, "size": 225, "opacity": 1, "clip": true},
   "encoding": {
    "x": {"field": "t", "type": "quantitative", "axis": {"orient": "top", "values": [0,2,4,6,8,10,12,14,16,18,20], "labels": false, "grid": false, "title": null, "minExtent": 0, "maxExtent": 0}},
    "y": {"field": "v", "type": "quantitative", "axis": {"orient": "right", "values": [0,0.1,0.2,0.3,0.4,0.5,0.6,0.7,0.8,0.9,1], "labels": false, "grid": false, "title": null, "minExtent": 0, "maxExtent": 0}},
    "color": {"field": "bank", "type": "nominal", "legend": null}
   }},
  {"data": {"name": "c_mark"}, "transform": [{"filter": "datum.bank === 'Bank B'"}], "mark": {"type": "point", "shape": "M-0.67,-0.67H0.67V0.67H-0.67Z", "filled": false, "strokeWidth": 2.5, "size": 225, "opacity": 1, "clip": true},
   "encoding": {"x": {"field": "t", "type": "quantitative", "axis": null}, "y": {"field": "v", "type": "quantitative", "axis": null}, "color": {"field": "bank", "type": "nominal", "legend": null}}},
  {"data": {"name": "c_mark"}, "transform": [{"filter": "datum.bank === 'Bank C'"}], "mark": {"type": "point", "shape": "M0.73,0A0.73,0.73,0,1,1,-0.73,0A0.73,0.73,0,1,1,0.73,0Z", "filled": false, "strokeWidth": 2.5, "size": 225, "opacity": 1, "clip": true},
   "encoding": {"x": {"field": "t", "type": "quantitative", "axis": null}, "y": {"field": "v", "type": "quantitative", "axis": null}, "color": {"field": "bank", "type": "nominal", "legend": null}}}
 ],
 "resolve": {"axis": {"x": "independent", "y": "independent"}}
},
{
 "width": 462, "height": 369,
 "title": {"text": "(d)", "dx": 14},
 "layer": [
  {"data": {"name": "d_line"}, "mark": {"type": "line", "strokeWidth": 3, "clip": true},
   "encoding": {
    "x": {"field": "t", "type": "quantitative", "scale": {"domain": [0, 21.3], "nice": false, "zero": false}, "axis": {"values": [0,2,4,6,8,10,12,14,16,18,20], "labelExpr": "((datum.value + 21) % 24) + ':00'", "title": "Eastern Time", "titlePadding": 2, "grid": true}},
    "y": {"field": "v", "type": "quantitative", "scale": {"domain": [-0.05, 1], "nice": false, "zero": false}, "axis": {"values": [0,0.1,0.2,0.3,0.4,0.5,0.6,0.7,0.8,0.9,1], "format": "~g", "title": "Queued payments", "titlePadding": 7, "grid": true}},
    "color": {"field": "bank", "type": "nominal", "scale": {"domain": ["Bank A","Bank B","Bank C"], "range": ["#0000ff","#008000","#ff0000"]},
      "legend": {"title": null, "orient": "top-left", "encode": {"symbols": {"update": {"shape": {"signal": "datum.value === 'Bank A' ? 'M-1,0H2.875M0.94,-0.91L1.41,0L0.94,0.91L0.47,0Z' : datum.value === 'Bank B' ? 'M-1,0H2.875M0.32,-0.62H1.56V0.62H0.32Z' : 'M-1,0H2.875M1.56,0A0.62,0.62,0,1,1,0.32,0A0.62,0.62,0,1,1,1.56,0Z'"}, "stroke": {"signal": "datum.value === 'Bank A' ? '#0000ff' : datum.value === 'Bank B' ? '#008000' : '#ff0000'"}, "strokeDash": {"signal": "datum.value === 'Bank B' ? [6,4] : [1,0]"}, "strokeWidth": {"value": 2.5}, "fill": {"value": "transparent"}, "opacity": {"value": 1}}}, "legend": {"update": {"strokeWidth": {"value": 1.2}}}}}},
    "strokeDash": {"field": "bank", "type": "nominal", "scale": {"domain": ["Bank A","Bank B","Bank C"], "range": [[1,0],[6,4],[1,0]]}, "legend": null}
   }},
  {"data": {"name": "d_mark"}, "transform": [{"filter": "datum.bank === 'Bank A'"}], "mark": {"type": "point", "shape": "M0,-1L0.6,0L0,1L-0.6,0Z", "filled": false, "strokeWidth": 2.5, "size": 225, "opacity": 1, "clip": true},
   "encoding": {
    "x": {"field": "t", "type": "quantitative", "axis": {"orient": "top", "values": [0,2,4,6,8,10,12,14,16,18,20], "labels": false, "grid": false, "title": null, "minExtent": 0, "maxExtent": 0}},
    "y": {"field": "v", "type": "quantitative", "axis": null},
    "color": {"field": "bank", "type": "nominal", "legend": null}
   }},
  {"data": {"name": "d_mark"}, "transform": [{"filter": "datum.bank === 'Bank B'"}], "mark": {"type": "point", "shape": "M-0.67,-0.67H0.67V0.67H-0.67Z", "filled": false, "strokeWidth": 2.5, "size": 225, "opacity": 1, "clip": true},
   "encoding": {"x": {"field": "t", "type": "quantitative", "axis": null}, "y": {"field": "v", "type": "quantitative", "axis": null}, "color": {"field": "bank", "type": "nominal", "legend": null}}},
  {"data": {"name": "d_mark"}, "transform": [{"filter": "datum.bank === 'Bank C'"}], "mark": {"type": "point", "shape": "M0.73,0A0.73,0.73,0,1,1,-0.73,0A0.73,0.73,0,1,1,0.73,0Z", "filled": false, "strokeWidth": 2.5, "size": 225, "opacity": 1, "clip": true},
   "encoding": {"x": {"field": "t", "type": "quantitative", "axis": null}, "y": {"field": "v", "type": "quantitative", "axis": null}, "color": {"field": "bank", "type": "nominal", "legend": null}}}
 ],
 "resolve": {"axis": {"x": "independent", "y": "independent"}}
}
]
}
